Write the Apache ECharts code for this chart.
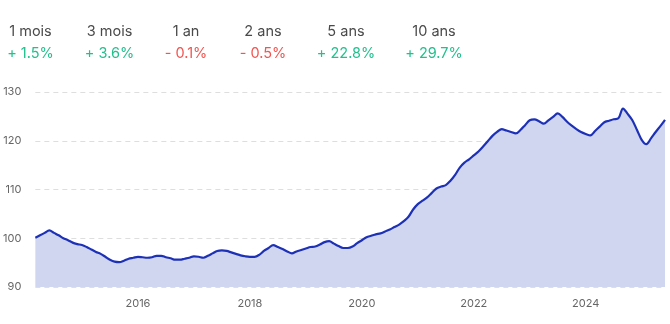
<!DOCTYPE html>
<html>
<head>
<meta charset="utf-8">
<script src="https://cdn.jsdelivr.net/npm/echarts@6/dist/echarts.min.js"></script>
<style>
html,body{margin:0;padding:0;background:#fff;}
#chart{width:670px;height:324px;}
</style>
</head>
<body>
<div id="chart"></div>
<script>
// Header: performance periods and changes
var periods = ['1 mois', '3 mois', '1 an', '2 ans', '5 ans', '10 ans'];
var changes = ['+ 1.5%', '+ 3.6%', '- 0.1%', '- 0.5%', '+ 22.8%', '+ 29.7%'];

// Monthly index values, March 2014 to June 2025
var startYear = 2014, startMonth = 3;
var values = [
  100.1, 100.6, 101.1, 101.6, 101.1, 100.6, 100.0, 99.6, 99.1, 98.8,
  98.6, 98.2, 97.7, 97.2, 96.8, 96.2, 95.6, 95.2, 95.1, 95.4,
  95.8, 96.0, 96.2, 96.1, 96.0, 96.1, 96.4, 96.4, 96.1, 95.9,
  95.6, 95.6, 95.8, 96.0, 96.3, 96.2, 96.0, 96.4, 96.9, 97.4,
  97.5, 97.4, 97.1, 96.8, 96.5, 96.3, 96.2, 96.2, 96.6, 97.4,
  98.0, 98.6, 98.2, 97.8, 97.3, 96.9, 97.3, 97.6, 97.9, 98.2,
  98.3, 98.7, 99.2, 99.4, 98.9, 98.4, 98.0, 98.0, 98.3, 99.0,
  99.6, 100.2, 100.5, 100.8, 101.0, 101.4, 101.8, 102.3, 102.8, 103.5,
  104.4, 105.9, 107.0, 107.7, 108.4, 109.3, 110.2, 110.6, 110.9, 111.8,
  113.0, 114.5, 115.5, 116.2, 117.0, 117.8, 118.8, 119.9, 121.0, 121.8,
  122.4, 122.1, 121.8, 121.5, 122.2, 123.2, 124.2, 124.4, 124.0, 123.5,
  124.2, 124.9, 125.6, 124.9, 123.9, 123.1, 122.4, 121.8, 121.4, 121.1,
  122.0, 122.9, 123.8, 124.1, 124.4, 124.6, 126.6, 125.5, 124.2, 122.2,
  120.2, 119.3, 120.5, 121.8, 123.0, 124.3
];
var yTicks = [90, 100, 110, 120, 130];

var categories = [];
for (var k = 0; k < values.length; k++) {
  var m = startMonth - 1 + k;
  var y = startYear + Math.floor(m / 12);
  var mm = (m % 12) + 1;
  categories.push(y + '-' + (mm < 10 ? '0' + mm : '' + mm));
}

var colCenters = [30.5, 109.5, 186, 263, 346, 434];
var graphics = [];
periods.forEach(function (p, i) {
  graphics.push({
    type: 'text',
    x: colCenters[i], y: 32,
    style: { text: p, font: '14.5px Inter, "Noto Sans", sans-serif', fill: '#4a4a4a',
             textAlign: 'center', textVerticalAlign: 'middle' }
  });
  var pos = changes[i].charAt(0) === '+';
  graphics.push({
    type: 'text',
    x: colCenters[i], y: 54,
    style: { text: changes[i], font: '14.5px Inter, "Noto Sans", sans-serif',
             fill: pos ? '#22c08d' : '#f2544f',
             textAlign: 'center', textVerticalAlign: 'middle' }
  });
});

var chart = echarts.init(document.getElementById('chart'), null, { renderer: 'canvas' });
chart.setOption({
  animation: false,
  backgroundColor: '#ffffff',
  graphic: graphics,
  grid: { left: 35, right: 5, top: 92, bottom: 37, containLabel: false },
  xAxis: {
    type: 'category',
    data: categories,
    boundaryGap: false,
    axisLine: { show: false },
    axisTick: { show: false },
    splitLine: { show: false },
    axisLabel: {
      color: '#666',
      fontSize: 11,
      fontFamily: 'Inter, "Noto Sans", sans-serif',
      margin: 11,
      interval: function (idx, val) {
        var yr = parseInt(val.slice(0, 4), 10);
        return val.slice(5) === '01' && yr % 2 === 0;
      },
      formatter: function (val) { return val.slice(0, 4); }
    }
  },
  yAxis: {
    type: 'value',
    min: yTicks[0],
    max: yTicks[yTicks.length - 1],
    interval: 10,
    axisLine: { show: false },
    axisTick: { show: false },
    axisLabel: {
      color: '#666',
      fontSize: 11,
      fontFamily: 'Inter, "Noto Sans", sans-serif',
      margin: 14
    },
    splitLine: { show: true, lineStyle: { color: '#dedede', type: [5, 4], width: 1 } }
  },
  series: [{
    type: 'line',
    data: values,
    smooth: 0.35,
    symbol: 'none',
    lineStyle: { color: '#1d31b7', width: 2.2 },
    areaStyle: { color: '#d0d5f0', opacity: 1 }
  }]
});
</script>
</body>
</html>
